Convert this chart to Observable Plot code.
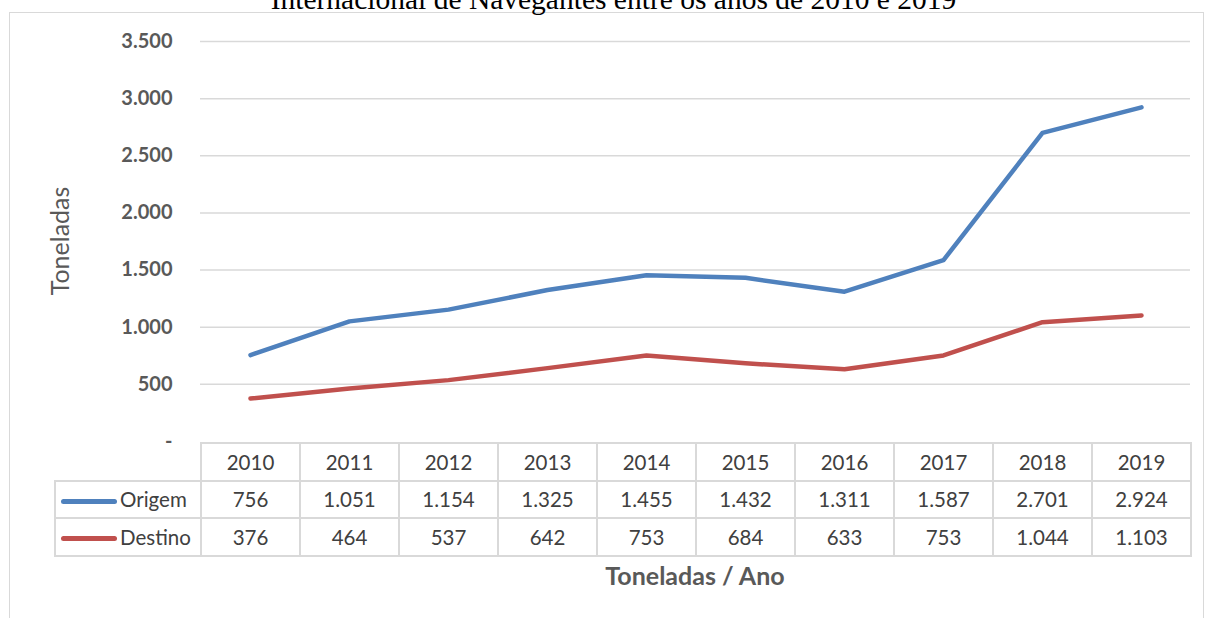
<!DOCTYPE html>
<html>
<head>
<meta charset="utf-8">
<script src="https://cdn.jsdelivr.net/npm/d3@7"></script>
<script src="https://cdn.jsdelivr.net/npm/@observablehq/plot@0.6"></script>
<style>
  html, body { margin: 0; padding: 0; background: #fff; }
  #wrap { position: relative; width: 1205px; height: 618px; overflow: hidden; font-family: Lato, "Open Sans", sans-serif; color: #595959; }
  #frame { position: absolute; left: 9px; top: 12px; width: 1195px; height: 640px; border: 1.5px solid #d9d9d9; box-sizing: border-box; }
  #title { position: absolute; left: 0; width: 1227px; top: -16px; line-height: 30px; text-align: center; font-family: "Liberation Serif", "Times New Roman", serif; font-size: 29.5px; color: #000; white-space: nowrap; }
  #chart { position: absolute; left: 0; top: 0; }
  #ytitle { position: absolute; left: 59px; top: 241px; transform: translate(-50%, -50%) rotate(-90deg); font-size: 25px; line-height: 30px; color: #595959; white-space: nowrap; }
  #xtitle { position: absolute; left: 200px; width: 990px; top: 560px; line-height: 30px; text-align: center; font-weight: bold; font-size: 25px; color: #595959; }
  table.dt { position: absolute; left: 54px; top: 442px; border-collapse: collapse; font-size: 20.5px; color: #404040; table-layout: fixed; }
  table.dt td { border: 2px solid #d9d9d9; text-align: center; height: 37.5px; padding: 0; box-sizing: border-box; }
  table.dt td.empty { border-left: none; border-top: none; }
  table.dt td.leg { text-align: left; padding-left: 5px; white-space: nowrap; }
  .sw { display: inline-block; width: 56px; height: 5px; border-radius: 3px; vertical-align: middle; margin-right: 3px; position: relative; top: -1px; }
</style>
</head>
<body>
<div id="wrap">
  <div id="frame"></div>
  <div id="title"></div>
  <div id="chart"></div>
  <div id="ytitle"></div>
  <div id="xtitle"></div>
</div>
<script>
const titleText = "Internacional de Navegantes entre os anos de 2010 e 2019";
const yTitle = "Toneladas";
const xTitle = "Toneladas / Ano";
const years = ["2010","2011","2012","2013","2014","2015","2016","2017","2018","2019"];
const origem = [756,1051,1154,1325,1455,1432,1311,1587,2701,2924];
const destino = [376,464,537,642,753,684,633,753,1044,1103];
const seriesNames = ["Origem","Destino"];
const seriesColors = ["#4f81bd","#c0504d"];
const yTicks = [0,500,1000,1500,2000,2500,3000,3500];

const loc = d3.formatLocale({decimal: ",", thousands: ".", grouping: [3], currency: ["R$", ""]});
const fmt = loc.format(",");
const tickFmt = v => v === 0 ? "-" : fmt(v);

const rows = [];
years.forEach((y, i) => {
  rows.push({year: y, value: origem[i], series: seriesNames[0]});
  rows.push({year: y, value: destino[i], series: seriesNames[1]});
});

document.getElementById("title").textContent = titleText;
document.getElementById("ytitle").textContent = yTitle;
document.getElementById("xtitle").textContent = xTitle;

const plot = Plot.plot({
  width: 1205,
  height: 460,
  marginLeft: 200,
  marginRight: 15,
  marginTop: 41,
  marginBottom: 19,
  style: {fontFamily: "Lato, 'Open Sans', sans-serif", color: "#595959", background: "transparent", overflow: "visible"},
  x: {type: "point", domain: years, padding: 0.5, axis: null},
  y: {domain: [0, 3500], axis: null},
  color: {domain: seriesNames, range: seriesColors},
  marks: [
    Plot.ruleY(yTicks.filter(d => d > 0), {stroke: "#d9d9d9", strokeWidth: 1.5}),
    Plot.axisY({ticks: yTicks, tickFormat: tickFmt, tickSize: 0, tickPadding: 28, fontSize: 20, fontWeight: "bold", fill: "#595959", label: null}),
    Plot.line(rows, {x: "year", y: "value", z: "series", stroke: "series", strokeWidth: 4.5, strokeLinecap: "round", strokeLinejoin: "round"})
  ]
});
document.getElementById("chart").appendChild(plot);

// data table aligned with the x scale
const xs = plot.scale("x");
const step = (xs.range[1] - xs.range[0]) / years.length;
const left0 = xs.range[0];
const legW = left0 - 54;
const table = document.createElement("table");
table.className = "dt";
const cg = document.createElement("colgroup");
const c0 = document.createElement("col"); c0.style.width = legW + "px"; cg.appendChild(c0);
years.forEach(() => { const c = document.createElement("col"); c.style.width = step + "px"; cg.appendChild(c); });
table.appendChild(cg);
table.style.width = (legW + step * years.length) + "px";
const hr = table.insertRow();
const e = hr.insertCell(); e.className = "empty";
years.forEach(y => { hr.insertCell().textContent = y; });
[origem, destino].forEach((vals, k) => {
  const r = table.insertRow();
  const c = r.insertCell(); c.className = "leg";
  const sw = document.createElement("span"); sw.className = "sw"; sw.style.background = seriesColors[k];
  c.appendChild(sw);
  c.appendChild(document.createTextNode(seriesNames[k]));
  vals.forEach(v => { r.insertCell().textContent = fmt(v); });
});
document.getElementById("wrap").appendChild(table);
</script>
</body>
</html>
